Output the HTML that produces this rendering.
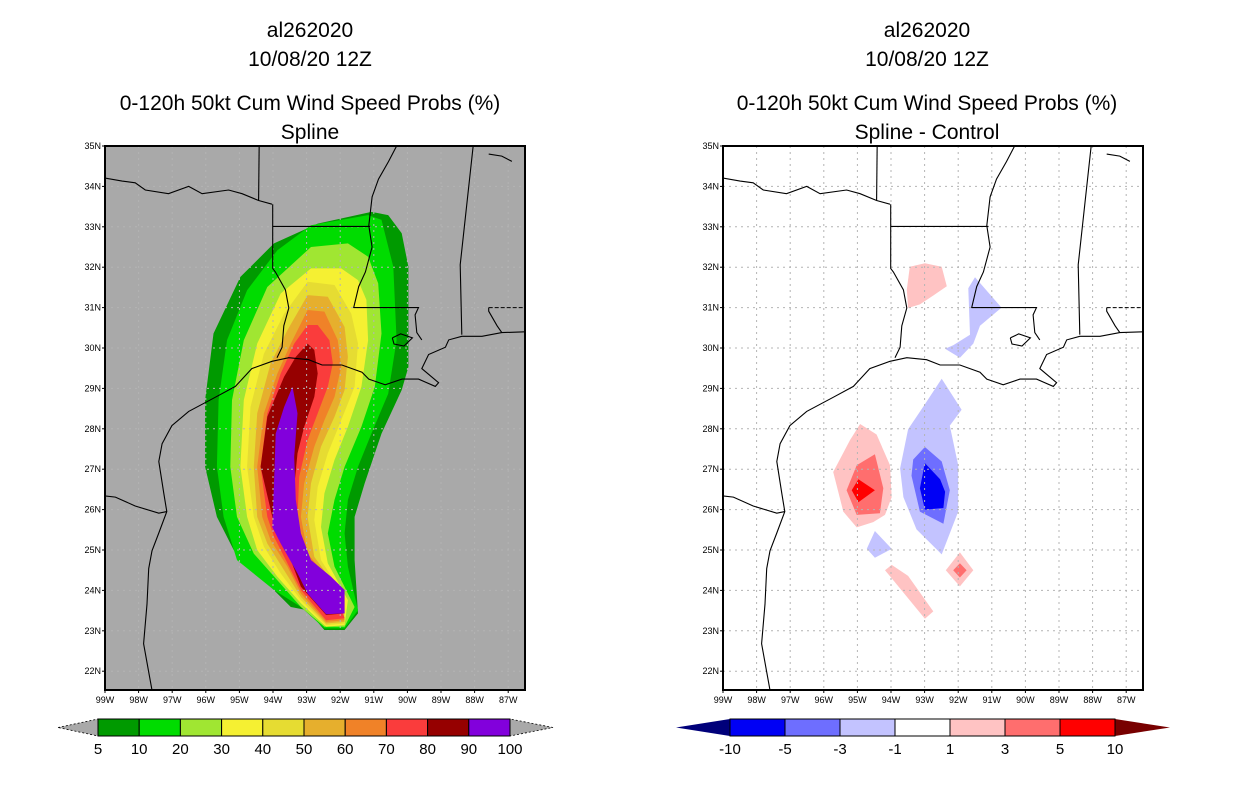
<!DOCTYPE html>
<html><head><meta charset="utf-8"><style>
html,body{margin:0;padding:0;background:#fff;}
svg{display:block;font-family:"Liberation Sans",sans-serif;}
</style></head><body>
<svg id="s" width="1236" height="800" viewBox="0 0 1236 800" xmlns="http://www.w3.org/2000/svg">
<defs>
<clipPath id="cl"><rect x="105" y="146" width="420" height="544"/></clipPath>
<clipPath id="cr"><rect x="723" y="146" width="420" height="544"/></clipPath>
</defs>
<g font-size="21" text-anchor="middle" fill="#000">
<text x="310" y="37">al262020</text>
<text x="310" y="66">10/08/20 12Z</text>
<text x="310" y="110">0-120h 50kt Cum Wind Speed Probs (%)</text>
<text x="310" y="139">Spline</text>
</g>
<g font-size="21" text-anchor="middle" fill="#000">
<text x="927" y="37">al262020</text>
<text x="927" y="66">10/08/20 12Z</text>
<text x="927" y="110">0-120h 50kt Cum Wind Speed Probs (%)</text>
<text x="927" y="139">Spline - Control</text>
</g>
<g id="left" clip-path="url(#cl)"></g>
<g id="right" clip-path="url(#cr)"></g>
<g id="axes"></g>
<g id="cbars"></g>
</svg>
<script>
// ---- data (lon, lat in degrees) ----
const probLevels = [5,10,20,30,40,50,60,70,80,90,100];
const probColors = ["#009a00","#00dc00","#a0e632","#f5f032","#e6dc32","#e6af2d","#f08228","#fa3c3c","#960000","#8200dc"];
const L5 = [[-92.67,33.08],[-91.07,33.37],[-90.57,33.29],[-90.17,32.84],[-89.97,32.01],[-89.97,29.53],[-90.17,28.96],[-90.77,27.88],[-91.27,26.65],[-91.57,25.82],[-91.57,24.75],[-91.47,23.43],[-91.87,23.02],[-92.47,23.02],[-92.97,23.51],[-93.47,23.59],[-94.17,24.17],[-95.17,25.0],[-95.67,25.82],[-96.02,27.06],[-96.02,28.71],[-95.77,30.36],[-94.97,31.76],[-93.97,32.59]];
const L10 = [[-92.87,33.04],[-91.17,33.29],[-90.77,33.17],[-90.42,32.01],[-90.32,30.19],[-90.57,28.87],[-91.07,27.88],[-91.47,27.06],[-91.77,26.24],[-91.87,25.41],[-91.77,24.59],[-91.47,23.51],[-91.87,23.06],[-92.47,23.06],[-93.17,23.59],[-93.97,24.01],[-95.07,24.75],[-95.47,25.82],[-95.67,27.06],[-95.62,28.71],[-95.37,30.19],[-94.77,31.43],[-93.87,32.42]];
const L20 = [[-92.87,32.5],[-91.77,32.59],[-91.17,32.26],[-90.87,31.6],[-90.77,30.36],[-90.97,29.04],[-91.37,28.05],[-91.87,27.06],[-92.17,26.24],[-92.37,25.41],[-92.17,24.59],[-91.57,23.59],[-91.87,23.1],[-92.47,23.1],[-93.17,23.59],[-93.87,24.25],[-94.57,24.91],[-95.07,25.82],[-95.27,27.06],[-95.22,28.71],[-94.87,30.19],[-94.17,31.51]];
const L30 = [[-92.87,31.97],[-91.97,31.97],[-91.47,31.68],[-91.22,31.19],[-91.17,30.19],[-91.37,29.04],[-91.77,28.05],[-92.17,27.23],[-92.47,26.4],[-92.57,25.57],[-92.37,24.67],[-91.77,23.76],[-91.87,23.14],[-92.42,23.1],[-93.17,23.68],[-93.87,24.34],[-94.47,25.0],[-94.77,25.82],[-94.97,27.06],[-94.87,28.71],[-94.47,30.11],[-93.77,31.35]];
const L40 = [[-92.97,31.64],[-92.17,31.56],[-91.67,30.85],[-91.47,30.11],[-91.57,29.04],[-91.97,28.21],[-92.37,27.39],[-92.67,26.56],[-92.77,25.74],[-92.57,24.75],[-91.87,23.84],[-91.87,23.18],[-92.42,23.14],[-93.17,23.76],[-93.77,24.42],[-94.27,25.08],[-94.57,25.82],[-94.77,27.06],[-94.67,28.54],[-94.27,29.86],[-93.67,30.85]];
const L50 = [[-92.97,31.31],[-92.37,31.27],[-91.87,30.52],[-91.77,29.78],[-91.87,28.96],[-92.17,28.3],[-92.57,27.56],[-92.87,26.65],[-92.97,25.82],[-92.77,24.83],[-91.97,23.92],[-91.87,23.22],[-92.42,23.18],[-93.17,23.84],[-93.67,24.5],[-94.17,25.16],[-94.47,25.82],[-94.57,27.06],[-94.47,28.38],[-94.07,29.62],[-93.57,30.44]];
const L60 = [[-92.97,30.94],[-92.47,30.9],[-92.07,30.19],[-91.97,29.53],[-92.17,28.79],[-92.47,28.21],[-92.77,27.56],[-93.07,26.65],[-93.17,25.82],[-92.97,24.91],[-92.07,24.01],[-91.87,23.26],[-92.42,23.22],[-93.17,23.92],[-93.57,24.59],[-94.07,25.24],[-94.32,25.82],[-94.47,27.06],[-94.27,28.38],[-93.87,29.37],[-93.47,30.11]];
const L70 = [[-92.97,30.57],[-92.67,30.57],[-92.32,30.19],[-92.22,29.62],[-92.37,29.04],[-92.67,28.38],[-92.97,27.72],[-93.22,26.81],[-93.27,25.82],[-93.07,24.91],[-92.17,24.09],[-91.87,23.31],[-92.42,23.26],[-93.17,24.01],[-93.57,24.67],[-93.97,25.33],[-94.17,25.82],[-94.37,27.06],[-94.17,28.38],[-93.77,29.37],[-93.37,30.11]];
const L80 = [[-92.97,30.11],[-92.77,29.95],[-92.67,29.37],[-92.77,28.79],[-93.07,28.05],[-93.27,27.39],[-93.37,26.56],[-93.32,25.57],[-93.07,24.83],[-92.27,24.17],[-91.87,23.43],[-92.42,23.39],[-93.17,24.09],[-93.47,24.75],[-93.87,25.41],[-94.02,25.82],[-94.37,27.06],[-94.17,28.3],[-93.67,29.29],[-93.32,29.78]];
const L90 = [[-93.42,29.04],[-93.27,28.38],[-93.37,27.31],[-93.32,26.24],[-93.17,25.41],[-92.87,24.75],[-92.27,24.34],[-91.87,24.01],[-91.87,23.43],[-92.42,23.41],[-92.97,23.92],[-93.27,24.42],[-93.77,25.16],[-94.02,25.57],[-93.97,26.65],[-93.92,27.88],[-93.67,28.54]];
const probContours = [L5,L10,L20,L30,L40,L50,L60,L70,L80,L90];

const diffLevels = [-10,-5,-3,-1,1,3,5,10];
const diffColors = ["#00007a","#0000f5","#6e6eff","#c3c3ff","#ffffff","#ffc3c3","#ff6e6e","#ff0000","#780000"];
const dPinkNorth = [[-93.44,32.01],[-92.99,32.1],[-92.49,32.01],[-92.34,31.53],[-92.74,31.3],[-93.14,31.08],[-93.49,30.99],[-93.53,31.44]];
const dBlueNorth = [[-91.5,31.75],[-90.71,31.0],[-91.35,30.55],[-91.55,30.11],[-91.95,29.76],[-92.39,29.98],[-92.15,30.07],[-91.65,30.33],[-91.7,31.48]];
const dBlueBig = [[-92.49,29.24],[-91.9,28.47],[-92.25,28.08],[-92.0,27.1],[-92.0,25.95],[-92.49,24.89],[-93.24,25.51],[-93.63,26.31],[-93.73,27.02],[-93.49,27.99],[-92.99,28.61]];
const dBlueMid = [[-92.99,27.55],[-92.49,27.19],[-92.25,26.48],[-92.44,25.65],[-93.14,25.95],[-93.39,26.84],[-93.34,27.24]];
const dBlueCore = [[-92.99,27.15],[-92.54,26.75],[-92.39,26.44],[-92.44,26.04],[-92.99,26.0],[-93.14,26.53]];
const dBlueSmall = [[-94.48,25.47],[-93.98,25.03],[-94.48,24.81],[-94.72,25.03]];
const dPinkBig = [[-94.92,28.12],[-94.43,27.86],[-94.03,27.1],[-93.98,26.31],[-94.18,25.87],[-94.53,25.69],[-95.02,25.56],[-95.42,25.95],[-95.72,26.93],[-95.22,27.72]];
const dPinkMid = [[-94.48,27.37],[-94.23,26.53],[-94.33,25.91],[-95.02,25.87],[-95.32,26.48],[-95.02,27.1]];
const dRedCore = [[-94.97,26.75],[-94.48,26.48],[-94.97,26.18],[-95.17,26.48]];
const dPinkSouth = [[-93.98,24.63],[-93.49,24.36],[-92.74,23.48],[-92.99,23.3],[-94.18,24.5]];
const dPinkDiamond = [[-91.95,24.94],[-91.55,24.5],[-91.95,24.1],[-92.37,24.5]];
const dPinkDiamondMid = [[-91.95,24.67],[-91.75,24.5],[-91.95,24.32],[-92.15,24.5]];
const diffShapes = [[dPinkNorth,5],[dBlueNorth,3],[dBlueBig,3],[dBlueMid,2],[dBlueCore,1],[dBlueSmall,3],[dPinkBig,5],[dPinkMid,6],[dRedCore,7],[dPinkSouth,5],[dPinkDiamond,5],[dPinkDiamondMid,6]];

// map lines
const coastGulf = [[-97.6,21.4],[-97.6,21.53],[-97.7,21.98],[-97.85,22.68],[-97.75,23.66],[-97.7,24.54],[-97.6,24.98],[-97.4,25.42],[-97.16,25.95],[-97.25,26.4],[-97.4,27.19],[-97.3,27.63],[-97.01,28.08],[-96.51,28.43],[-95.72,28.78],[-95.12,29.05],[-94.63,29.49],[-94.03,29.67],[-93.53,29.76],[-92.94,29.71],[-92.54,29.58],[-91.95,29.58],[-91.35,29.4],[-91.15,29.23],[-90.66,29.09],[-90.16,29.23],[-89.67,29.23],[-89.17,29.05],[-89.07,29.14],[-89.57,29.49],[-89.37,29.84],[-88.87,30.02],[-88.77,30.2],[-88.38,30.29],[-87.78,30.29],[-87.19,30.38],[-86.49,30.4]];
const mexBorder = [[-97.16,25.95],[-97.4,25.91],[-98.1,26.09],[-98.69,26.31],[-99.1,26.35]];
const redRiver = [[-99.1,34.22],[-98.49,34.13],[-98.1,34.09],[-97.8,33.91],[-97.11,33.82],[-96.51,34.0],[-96.11,33.82],[-95.32,33.91],[-94.92,33.82],[-94.43,33.65],[-94.03,33.56]];
const txArk = [[-94.41,35.1],[-94.43,33.65]];
const txLa = [[-94.01,33.56],[-94.01,31.97],[-93.93,31.88],[-93.63,31.44],[-93.53,30.99],[-93.68,30.55],[-93.73,30.02],[-93.88,29.76]];
const arLa = [[-94.01,33.01],[-91.1,33.01]];
const missRiver = [[-90.26,35.1],[-90.56,34.62],[-90.86,34.18],[-91.05,33.74],[-91.15,33.03],[-91.05,32.5],[-91.25,31.88],[-91.45,31.52],[-91.6,30.99]];
const laMs = [[-91.6,31.0],[-89.67,31.0],[-89.77,30.82],[-89.72,30.38],[-89.57,30.2]];
const msAl = [[-88.03,35.1],[-88.43,32.06],[-88.38,30.33]];
const alFlDash = [[-87.58,31.0],[-86.4,31.0]];
const alFl = [[-87.58,31.0],[-87.58,30.91],[-87.33,30.55],[-87.19,30.38]];
const lakePont = [[-90.45,30.25],[-90.2,30.35],[-89.85,30.25],[-90.1,30.05],[-90.4,30.1],[-90.45,30.25]];
const tnCurve = [[-87.58,34.8],[-87.19,34.75],[-86.89,34.62]];
const mapLines = [coastGulf,mexBorder,redRiver,txArk,txLa,arLa,missRiver,laMs,msAl,alFl,lakePont,tnCurve];

const latTicks = [35,34,33,32,31,30,29,28,27,26,25,24,23,22];
const lonTicks = [99,98,97,96,95,94,93,92,91,90,89,88,87];

// ---- drawing ----
const NS = "http://www.w3.org/2000/svg";
const PX = 33.6, PY = 40.4, TOP = 146, W = 420, H = 544;
function xs(lon, x0){ return x0 + (lon + 99) * PX; }
function ys(lat){ return TOP + (35 - lat) * PY; }
function mk(tag, attrs, parent){ const e = document.createElementNS(NS, tag); for (const k in attrs) e.setAttribute(k, attrs[k]); parent.appendChild(e); return e; }
function pts(arr, x0){ return arr.map(p => xs(p[0], x0).toFixed(1) + "," + ys(p[1]).toFixed(1)).join(" "); }

const left = document.getElementById("left"), right = document.getElementById("right");
const bgL = mk("rect", {x:105, y:146, width:W, height:H, fill:"#a9a9a9"}, left);


probContours.forEach((poly, i) => {
  const e = mk("polygon", {points: pts(poly, 105), fill: probColors[i]}, left);
  
  
});
const bgR = mk("rect", {x:723, y:146, width:W, height:H, fill:"#ffffff"}, right);


diffShapes.forEach((s, i) => {
  const e = mk("polygon", {points: pts(s[0], 723), fill: diffColors[s[1]]}, right);
  
  
});
[[left,105],[right,723]].forEach(([g, x0]) => {
  lonTicks.forEach(l => {
    const e = mk("line", {x1: xs(-l, x0), x2: xs(-l, x0), y1: TOP, y2: TOP + H, stroke: "#b4b4b4", "stroke-width": 1, "stroke-dasharray": "2,4"}, g);
    
    
  });
  latTicks.forEach(l => {
    const e = mk("line", {x1: x0, x2: x0 + W, y1: ys(l), y2: ys(l), stroke: "#b4b4b4", "stroke-width": 1, "stroke-dasharray": "2,4"}, g);
    
    
  });
  mapLines.forEach(ln => {
    const e = mk("polyline", {points: pts(ln, x0), fill: "none", stroke: "#000", "stroke-width": 1.1}, g);
    
    
  });
  const d = mk("polyline", {points: pts(alFlDash, x0), fill: "none", stroke: "#000", "stroke-width": 1, "stroke-dasharray": "4,2"}, g);
  
  
});

const axes = document.getElementById("axes");
[105, 723].forEach(x0 => {
  const f = mk("rect", {x: x0, y: TOP, width: W, height: H, fill: "none", stroke: "#000", "stroke-width": 2}, axes);
  
  
  latTicks.forEach(l => {
    const t = mk("text", {x: x0 - 4, y: ys(l) + 3, "font-size": 9, "text-anchor": "end", fill: "#000"}, axes);
    t.textContent = l + "N";
    
    
    const k = mk("line", {x1: x0 - 3, x2: x0, y1: ys(l), y2: ys(l), stroke: "#000"}, axes);
    
    
  });
  lonTicks.forEach(l => {
    const t = mk("text", {x: xs(-l, x0), y: TOP + H + 13, "font-size": 9, "text-anchor": "middle", fill: "#000"}, axes);
    t.textContent = l + "W";
    
    
    const k = mk("line", {x1: xs(-l, x0), x2: xs(-l, x0), y1: TOP + H, y2: TOP + H + 3, stroke: "#000"}, axes);
    
    
  });
});

// colorbars
const cb = document.getElementById("cbars");
function colorbar(x0, x1, bx0, bx1, colors, labels, triL, triR, dashed){
  const y0 = 719, y1 = 736, ym = 727.5;
  const n = colors.length;
  const bw = (bx1 - bx0) / n;
  const tl = mk("polygon", {points: `${x0},${ym} ${bx0},${y0} ${bx0},${y1}`, fill: triL, stroke: dashed ? "#000" : "none", "stroke-dasharray": "2,2", "stroke-width": 0.8}, cb);
  
  
  const tr = mk("polygon", {points: `${x1},${ym} ${bx1},${y0} ${bx1},${y1}`, fill: triR, stroke: dashed ? "#000" : "none", "stroke-dasharray": "2,2", "stroke-width": 0.8}, cb);
  
  
  colors.forEach((c, i) => {
    const r = mk("rect", {x: bx0 + i * bw, y: y0, width: bw, height: y1 - y0, fill: c, stroke: "#000", "stroke-width": 1}, cb);
    
    
  });
  labels.forEach((lb, i) => {
    const t = mk("text", {x: bx0 + i * bw, y: 754, "font-size": 15, "text-anchor": "middle", fill: "#000"}, cb);
    t.textContent = lb;
    
    
  });
}
colorbar(58, 553, 98, 510, probColors, probLevels, "#a9a9a9", "#a9a9a9", true);
colorbar(676, 1170, 730, 1115, diffColors.slice(1, 8), diffLevels, diffColors[0], diffColors[8], false);
</script>
</body></html>
